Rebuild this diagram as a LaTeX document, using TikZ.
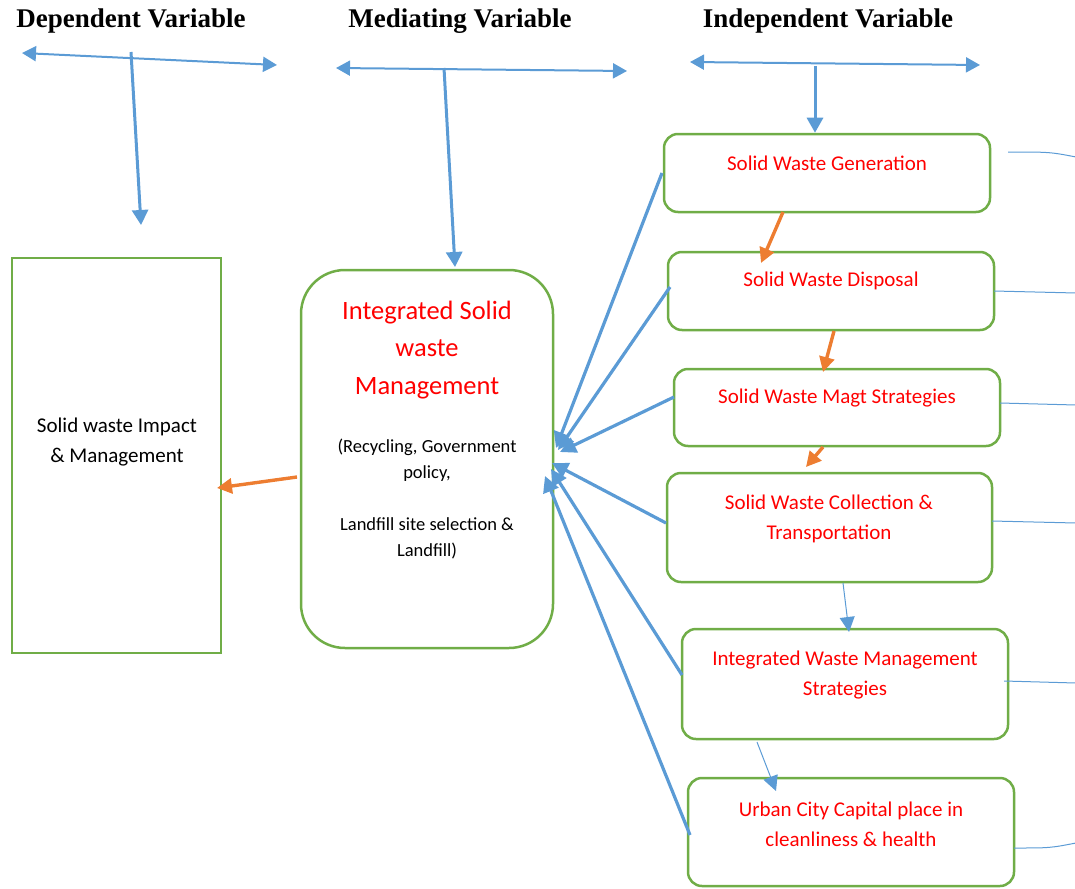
\documentclass[tikz,border=0pt]{standalone}
\usepackage{fontspec}
\setmainfont{Carlito}
\newfontfamily\headfont{Liberation Serif}
\usetikzlibrary{arrows.meta}
\definecolor{boxgreen}{HTML}{70AD47}
\definecolor{linkblue}{HTML}{5B9BD5}
\definecolor{flowor}{HTML}{ED7D31}

\begin{document}
\begin{tikzpicture}[x=1pt,y=-1pt,
  frame/.style={draw=boxgreen,line width=2.5pt,inner sep=0pt},
  sqbox/.style={frame},
  rbox/.style={frame,rounded corners=14pt},
  bigbox/.style={frame,rounded corners=44pt},
  head/.style={font=\headfont\bfseries\fontsize{27}{30}\selectfont,inner sep=0pt},
  lbl/.style={text=red,font=\fontsize{21}{30}\selectfont,align=center,inner sep=0pt},
  biglbl/.style={text=red,font=\fontsize{26.5}{37.5}\selectfont,align=center,inner sep=0pt},
  smalllbl/.style={font=\fontsize{18.5}{26}\selectfont,align=center,inner sep=0pt},
  blklbl/.style={font=\fontsize{21}{30}\selectfont,align=center,inner sep=0pt},
  span/.style={draw=linkblue,line width=2pt,{Triangle[length=14pt,width=15pt]}-{Triangle[length=14pt,width=15pt]}},
  drop/.style={draw=linkblue,line width=3pt,-{Triangle[length=15pt,width=16pt]}},
  feed/.style={draw=linkblue,line width=3.2pt,-{Triangle[length=16pt,width=16pt]}},
  thin/.style={draw=linkblue,line width=1pt,-{Triangle[length=15pt,width=15pt]}},
  flow/.style={draw=flowor,line width=3.4pt,-{Triangle[length=15pt,width=15pt]}},
  tail/.style={draw=linkblue,line width=1pt}
]
\useasboundingbox (0,0) rectangle (1075,888);

% column headings
\node[head] (hdep) at (131,21) {Dependent Variable};
\node[head] (hmed) at (460,21) {Mediating Variable};
\node[head] (hind) at (828,21) {Independent Variable};

% boxes
\node[sqbox,minimum width=209pt,minimum height=395pt] (dep) at (116.5,455.5) {};
\node[bigbox,minimum width=252pt,minimum height=378pt] (med) at (427,459) {};
\node[rbox,minimum width=326pt,minimum height=78pt] (b1) at (827,173) {};
\node[rbox,minimum width=326pt,minimum height=78pt] (b2) at (831,291) {};
\node[rbox,minimum width=326pt,minimum height=77pt] (b3) at (837,407.5) {};
\node[rbox,minimum width=325pt,minimum height=109pt] (b4) at (829.5,527.5) {};
\node[rbox,minimum width=326pt,minimum height=110pt] (b5) at (845,684) {};
\node[rbox,minimum width=326pt,minimum height=108pt] (b6) at (851,832) {};

% box texts
\node[blklbl] (tdep) at (117,442) {Solid waste Impact\\\& Management};
\node[biglbl] (tmed) at (427,350) {Integrated Solid\\waste\\Management};
\node[smalllbl] (tmeds) at (427,499) {(Recycling, Government\\policy,\\[26pt]Landfill site selection \&\\Landfill)};
\node[lbl] (t1) at (827,163) {Solid Waste Generation};
\node[lbl] (t2) at (831,281) {Solid Waste Disposal};
\node[lbl] (t3) at (837,398) {Solid Waste Magt Strategies};
\node[lbl] (t4) at (829,519) {Solid Waste Collection \&\\Transportation};
\node[lbl] (t5) at (845,675) {Integrated Waste Management\\Strategies};
\node[lbl] (t6) at (851,824) {Urban City Capital place in\\cleanliness \& health};

% heading spans and drops
\coordinate (s1a) at (22,53);  \coordinate (s1b) at (277,65);
\coordinate (s2a) at (336,68); \coordinate (s2b) at (627,71);
\coordinate (s3a) at (690,62); \coordinate (s3b) at (980,65);
\draw[span] (s1a) -- (s1b);
\draw[span] (s2a) -- (s2b);
\draw[span] (s3a) -- (s3b);
\coordinate (d1a) at (131,52);  \coordinate (d1b) at (141,225);
\coordinate (d2a) at (444,68);  \coordinate (d2b) at (455,267);
\coordinate (d3a) at (815,66);
\draw[drop] (d1a) -- (d1b);
\draw[drop] (d2a) -- (d2b);
\draw[drop] (d3a) -- (b1.north -| d3a);

% independent variables feeding the mediating box
\coordinate (f1) at (662,173); \coordinate (e1) at (556,448);
\coordinate (f2) at (670,287); \coordinate (e2) at (558,450);
\coordinate (f3) at (674,397); \coordinate (e3) at (560,452);
\coordinate (f4) at (666,523); \coordinate (e4) at (552,463);
\coordinate (f5) at (682,675); \coordinate (e5) at (551,469);
\coordinate (f6) at (690,835); \coordinate (e6) at (545,476);
\draw[feed] (f1) -- (e1);
\draw[feed] (f2) -- (e2);
\draw[feed] (f3) -- (e3);
\draw[feed] (f4) -- (e4);
\draw[feed] (f5) -- (e5);
\draw[feed] (f6) -- (e6);

% mediating box to dependent box
\coordinate (m1) at (297,477); \coordinate (m2) at (217,488);
\draw[flow] (m1) -- (m2);

% sequence between the independent boxes
\coordinate (o1a) at (783,212); \coordinate (o1b) at (761,263);
\coordinate (o2a) at (834,331); \coordinate (o2b) at (823,372);
\coordinate (o3a) at (823,447); \coordinate (o3b) at (806,467);
\draw[flow] (o1a) -- (o1b);
\draw[flow] (o2a) -- (o2b);
\draw[flow] (o3a) -- (o3b);
\coordinate (n4a) at (843,583); \coordinate (n4b) at (849,632);
\coordinate (n5a) at (757,742); \coordinate (n5b) at (776,791);
\draw[thin] (n4a) -- (n4b);
\draw[thin] (n5a) -- (n5b);

% lines leaving to the right
\coordinate (r1a) at (1008,152); \coordinate (r1b) at (1076,157);
\coordinate (r2a) at (994,291);  \coordinate (r2b) at (1076,293);
\coordinate (r3a) at (1000,403); \coordinate (r3b) at (1076,405);
\coordinate (r4a) at (992,521);  \coordinate (r4b) at (1076,523);
\coordinate (r5a) at (1004,681); \coordinate (r5b) at (1076,683);
\coordinate (r6a) at (1014,848); \coordinate (r6b) at (1076,843);
\draw[tail] (r1a) .. controls (1050,152) .. (r1b);
\draw[tail] (r2a) -- (r2b);
\draw[tail] (r3a) -- (r3b);
\draw[tail] (r4a) -- (r4b);
\draw[tail] (r5a) -- (r5b);
\draw[tail] (r6a) .. controls (1050,848) .. (r6b);
\end{tikzpicture}
\end{document}
